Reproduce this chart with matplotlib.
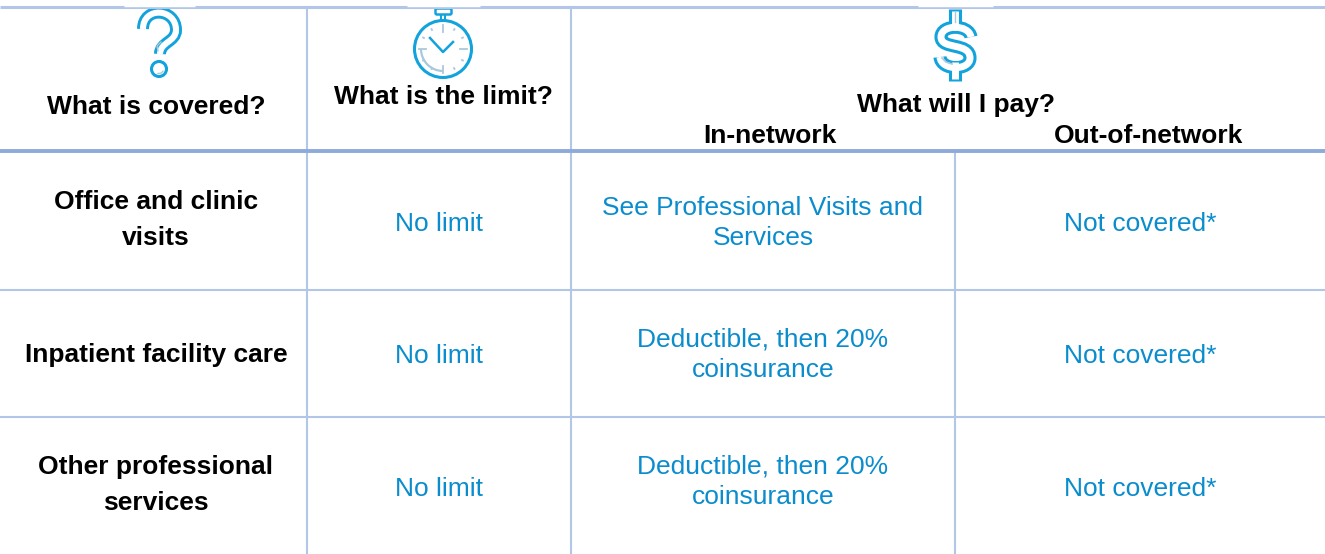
# libraries
import numpy as np
import matplotlib.pyplot as plt
from matplotlib.path import Path
from matplotlib.patches import Circle, Arc, FancyBboxPatch, PathPatch

plt.rcParams['font.family'] = ['Liberation Sans', 'DejaVu Sans']

# table content
headers = ['What is covered?', 'What is the limit?', 'What will I pay?']
subheaders = ['In-network', 'Out-of-network']
services = ['Office and clinic\nvisits', 'Inpatient facility care', 'Other professional\nservices']
limits = ['No limit', 'No limit', 'No limit']
in_network = ['See Professional Visits and\nServices', 'Deductible, then 20%\ncoinsurance', 'Deductible, then 20%\ncoinsurance']
out_network = ['Not covered*', 'Not covered*', 'Not covered*']

BLUE = '#0a8ccd'
ICON = '#12a3dc'
PALE = '#a9c8dc'
LINE = '#b4c6e7'
THICK = '#8eaadb'
FS = 19

fig = plt.figure(figsize=(13.25, 5.54), dpi=100)
ax = fig.add_axes([0, 0, 1, 1])
ax.set_xlim(0, 1325)
ax.set_ylim(554, 0)
ax.axis('off')

# grid lines
ax.plot([0, 1325], [6.5, 6.5], color=LINE, lw=2.2, solid_capstyle='butt')
for x0, x1 in [(124, 195), (407, 480), (918, 993)]:
    ax.plot([x0, x1], [6, 6], color='white', lw=1.0, solid_capstyle='butt')
ax.plot([306.5, 306.5], [7, 554], color=LINE, lw=1.5)
ax.plot([571, 571], [7, 554], color=LINE, lw=1.5)
ax.plot([955, 955], [152, 554], color=LINE, lw=1.5)
for y in [290, 417]:
    ax.plot([0, 1325], [y, y], color=LINE, lw=1.5)
ax.plot([0, 1325], [151, 151], color=THICK, lw=2.8, solid_capstyle='butt')

# header text
ax.text(156.5, 107, headers[0], fontsize=FS, fontweight='bold', ha='center', va='center', color='black')
ax.text(443, 97, headers[1], fontsize=FS, fontweight='bold', ha='center', va='center', color='black')
ax.text(956, 105, headers[2], fontsize=FS, fontweight='bold', ha='center', va='center', color='black')
ax.text(770, 136, subheaders[0], fontsize=FS, fontweight='bold', ha='center', va='center', color='black')
ax.text(1149, 136, subheaders[1], fontsize=FS, fontweight='bold', ha='center', va='center', color='black')

# body rows
service_y = [220, 355, 485]
limit_y = [224, 356, 489]
in_y = [223, 355, 482]
for i in range(3):
    ax.text(156, service_y[i], services[i], fontsize=FS, fontweight='bold', ha='center', va='center',
            color='black', linespacing=1.58)
    ax.text(439, limit_y[i], limits[i], fontsize=FS, ha='center', va='center', color=BLUE)
    ax.text(763, in_y[i], in_network[i], fontsize=FS, ha='center', va='center',
            color=BLUE, linespacing=1.36)
    ax.text(1140, limit_y[i], out_network[i], fontsize=FS, ha='center', va='center', color=BLUE)

# question mark icon, blue stroke with a white stroke on top
M, C = Path.MOVETO, Path.CURVE4
q_path = Path([(143, 29), (143, 6), (176, 8), (176, 30), (176, 42), (160, 42), (160, 54)],
              [M, C, C, C, C, C, C])
ax.add_patch(PathPatch(q_path, fc='none', ec=ICON, lw=8.6, capstyle='butt'))
ax.add_patch(PathPatch(q_path, fc='none', ec='white', lw=4.4, capstyle='butt'))
ax.add_patch(Circle((159, 69), 7.5, fc='white', ec=ICON, lw=2.2))
ax.add_patch(Arc((159, 69), 9, 9, theta1=20, theta2=110, color=PALE, lw=1))
ax.plot([158, 157, 161], [51, 46, 42], color=PALE, lw=1)

# dollar icon, same way
s_path = Path([(971, 37), (969, 24), (941, 24), (941, 37),
               (941, 50), (970, 42), (970, 58),
               (970, 71), (941, 71), (940, 57)],
              [M, C, C, C, C, C, C, C, C, C])
for colour, width in [(ICON, 9.4), ('white', 5.0)]:
    ax.plot([955, 955], [9 if colour == ICON else 11, 30], color=colour, lw=width, solid_capstyle='butt')
    ax.plot([955, 955], [62, 81 if colour == ICON else 79], color=colour, lw=width, solid_capstyle='butt')
    ax.add_patch(PathPatch(s_path, fc='none', ec=colour, lw=width, capstyle='butt', zorder=2))
ax.plot([942, 946, 952], [58, 62, 64], color=PALE, lw=1.2)
ax.plot([955, 955], [12, 22], color=PALE, lw=1)

# stopwatch icon
cx, cy = 443, 49
ax.add_patch(Circle((cx, cy), 28.5, fill=False, ec=ICON, lw=2.2))
ax.add_patch(FancyBboxPatch((437, 10), 13, 3, boxstyle='round,pad=1.5', fc='white', ec=ICON, lw=1.8))
ax.plot([cx - 2, cx - 2], [16, 20], color=ICON, lw=1.5)
ax.plot([cx + 2, cx + 2], [16, 20], color=ICON, lw=1.5)
ax.plot([430, cx, 453], [38, 52, 42], color=ICON, lw=1.8)
for a in np.arange(0, 360, 30):
    r0 = 17 if a % 90 == 0 else 22
    r1 = 24 if a % 90 == 0 else 23
    xs = [cx + r0 * np.cos(np.radians(a)), cx + r1 * np.cos(np.radians(a))]
    ys = [cy + r0 * np.sin(np.radians(a)), cy + r1 * np.sin(np.radians(a))]
    ax.plot(xs, ys, color=PALE, lw=1.3)
ax.add_patch(Arc((cx, cy), 44, 44, theta1=90, theta2=180, color=PALE, lw=1.6))

fig.savefig('out.png', dpi=100)
